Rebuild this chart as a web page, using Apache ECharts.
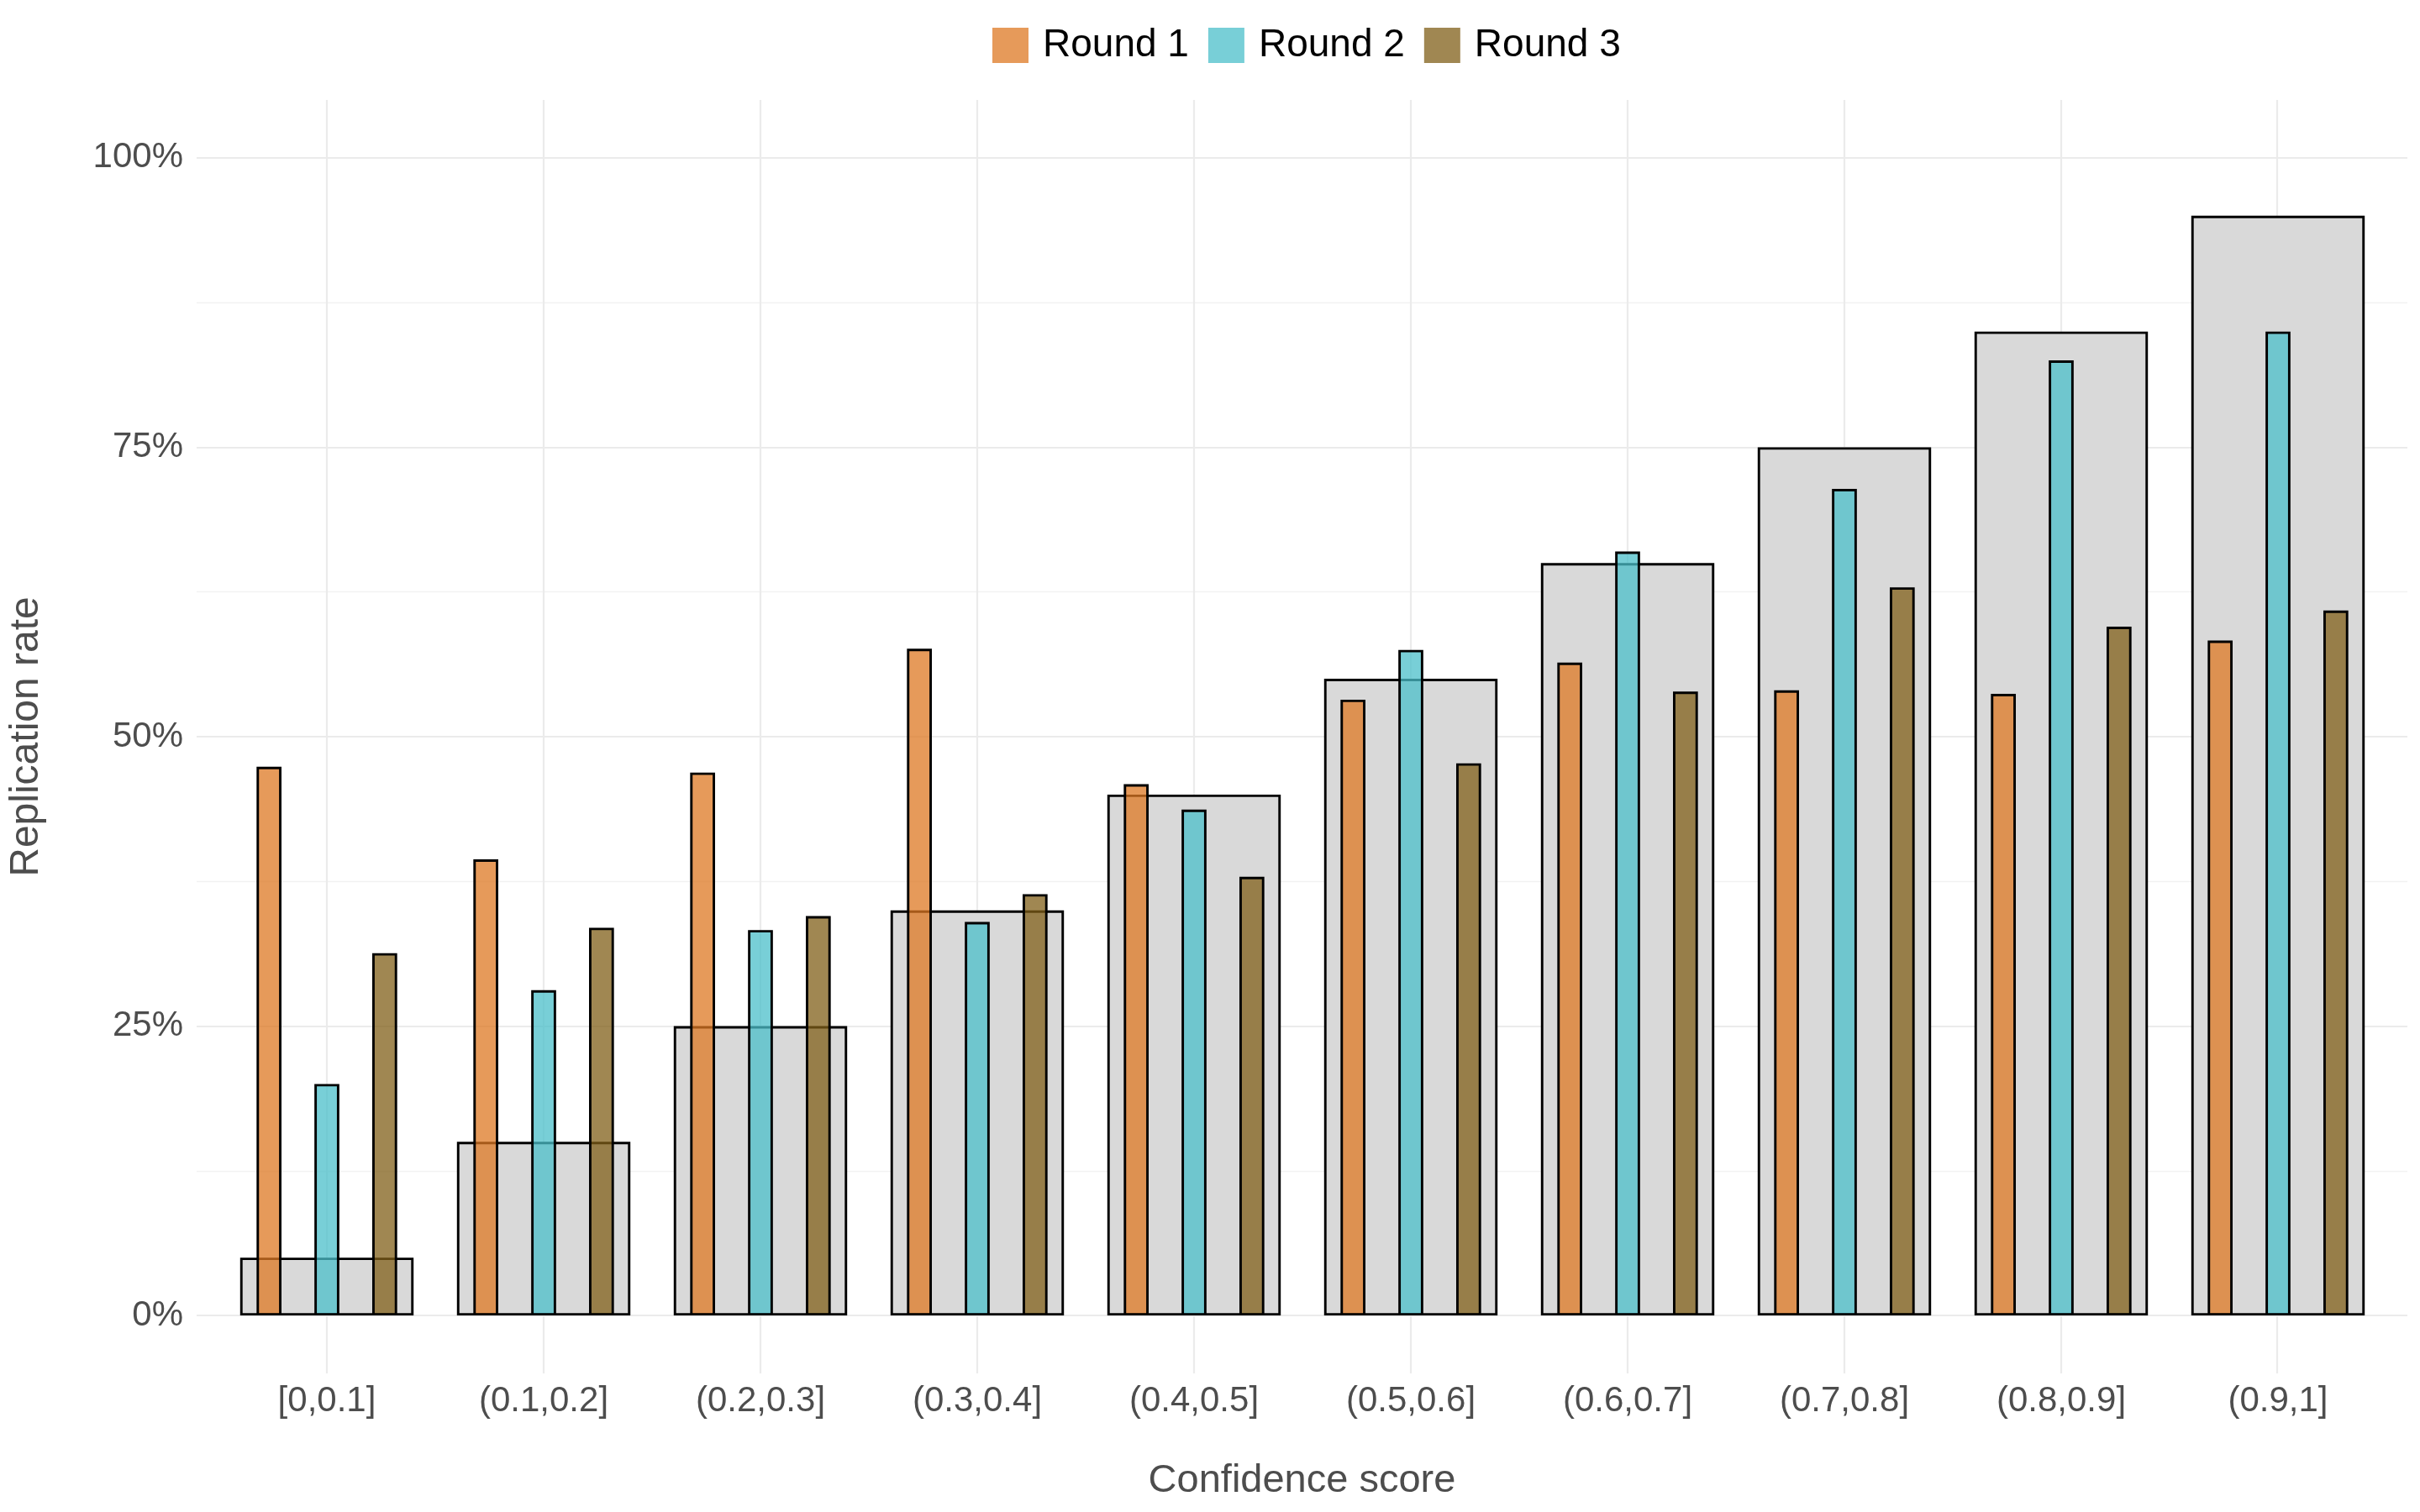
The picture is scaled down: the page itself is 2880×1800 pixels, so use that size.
<!DOCTYPE html>
<html>
<head>
<meta charset="utf-8">
<script src="https://cdn.jsdelivr.net/npm/echarts@6/dist/echarts.min.js"></script>
<style>
html,body{margin:0;padding:0;background:#fff;}
#chart{width:2880px;height:1800px;}
</style>
</head>
<body>
<div id="chart"></div>
<script>
const categories = ['[0,0.1]','(0.1,0.2]','(0.2,0.3]','(0.3,0.4]','(0.4,0.5]','(0.5,0.6]','(0.6,0.7]','(0.7,0.8]','(0.8,0.9]','(0.9,1]'];
const expected = [5,15,25,35,45,55,65,75,85,95];
const round1 = [47.4,39.4,46.9,57.6,45.9,53.2,56.4,54.0,53.7,58.3];
const round2 = [20.0,28.1,33.3,34.0,43.7,57.5,66.0,71.4,82.5,85.0];
const round3 = [31.3,33.5,34.5,36.4,37.9,47.7,53.9,62.9,59.5,60.9];
const majorTicks = [0,25,50,75,100];
const minorTicks = [12.5,37.5,62.5,87.5];
const catPositions = [0,1,2,3,4,5,6,7,8,9];

const FONT = '"Liberation Sans", Arial, Helvetica, sans-serif';
const chart = echarts.init(document.getElementById('chart'));
const barBorder = {borderColor:'#000', borderWidth:2.9};

chart.setOption({
  animation:false,
  backgroundColor:'#ffffff',
  textStyle:{fontFamily:FONT},
  legend:{
    data:['Round 1','Round 2','Round 3'],
    left:1176, top:26, padding:5,
    itemWidth:43, itemHeight:42, itemGap:23,
    icon:'rect', selectedMode:false,
    itemStyle:{borderWidth:0},
    textStyle:{fontSize:46, color:'#000', fontFamily:FONT, padding:[0,0,0,12]}
  },
  grid:[
    {left:260, right:40, top:119, bottom:165},
    {left:234, right:15, top:119, bottom:165}
  ],
  xAxis:[
    {type:'category', gridIndex:0, data:categories,
     axisLine:{show:false}, axisTick:{show:false}, splitLine:{show:false},
     axisLabel:{fontSize:42, color:'#4D4D4D', margin:12, fontFamily:FONT}},
    {type:'category', gridIndex:0, data:categories, show:false},
    {type:'value', gridIndex:1, min:-0.6, max:9.6,
     axisLine:{show:false}, axisTick:{show:false, customValues:catPositions},
     axisLabel:{show:false},
     splitLine:{show:true, lineStyle:{color:'#EBEBEB', width:2.2}},
     name:'Confidence score', nameLocation:'middle', nameGap:105,
     nameTextStyle:{fontSize:47, color:'#4D4D4D', fontFamily:FONT}}
  ],
  yAxis:[
    {type:'value', gridIndex:0, min:-5, max:105, show:false},
    {type:'value', gridIndex:1, min:-5, max:105,
     axisLine:{show:false}, axisTick:{show:false, customValues:majorTicks},
     axisLabel:{customValues:majorTicks, fontSize:42, color:'#4D4D4D', margin:16, fontFamily:FONT,
       padding:[8,0,0,0], formatter:v=>v+'%'},
     splitLine:{show:true, lineStyle:{color:'#EBEBEB', width:2.2}},
     name:'Replication rate', nameLocation:'middle', nameRotate:90, nameGap:178,
     nameTextStyle:{fontSize:48, color:'#4D4D4D', fontFamily:FONT}},
    {type:'value', gridIndex:1, min:-5, max:105, position:'left',
     axisLine:{show:false}, axisTick:{show:false, customValues:minorTicks},
     axisLabel:{show:false},
     splitLine:{show:true, lineStyle:{color:'#F2F2F2', width:1.4}}}
  ],
  series:[
    {name:'Expected', type:'bar', xAxisIndex:1, yAxisIndex:0, data:expected,
     barWidth:'80%', z:1,
     itemStyle:Object.assign({color:'#D9D9D9'}, barBorder)},
    {name:'Round 1', type:'bar', xAxisIndex:0, yAxisIndex:0, data:round1,
     barWidth:'11.5%', barGap:'132%', z:3,
     itemStyle:Object.assign({color:'rgba(222,120,35,0.75)'}, barBorder)},
    {name:'Round 2', type:'bar', xAxisIndex:0, yAxisIndex:0, data:round2,
     barWidth:'11.5%', barGap:'132%', z:3,
     itemStyle:Object.assign({color:'rgba(75,191,202,0.75)'}, barBorder)},
    {name:'Round 3', type:'bar', xAxisIndex:0, yAxisIndex:0, data:round3,
     barWidth:'11.5%', barGap:'132%', z:3,
     itemStyle:Object.assign({color:'rgba(128,95,24,0.75)'}, barBorder)}
  ]
});
</script>
</body>
</html>
